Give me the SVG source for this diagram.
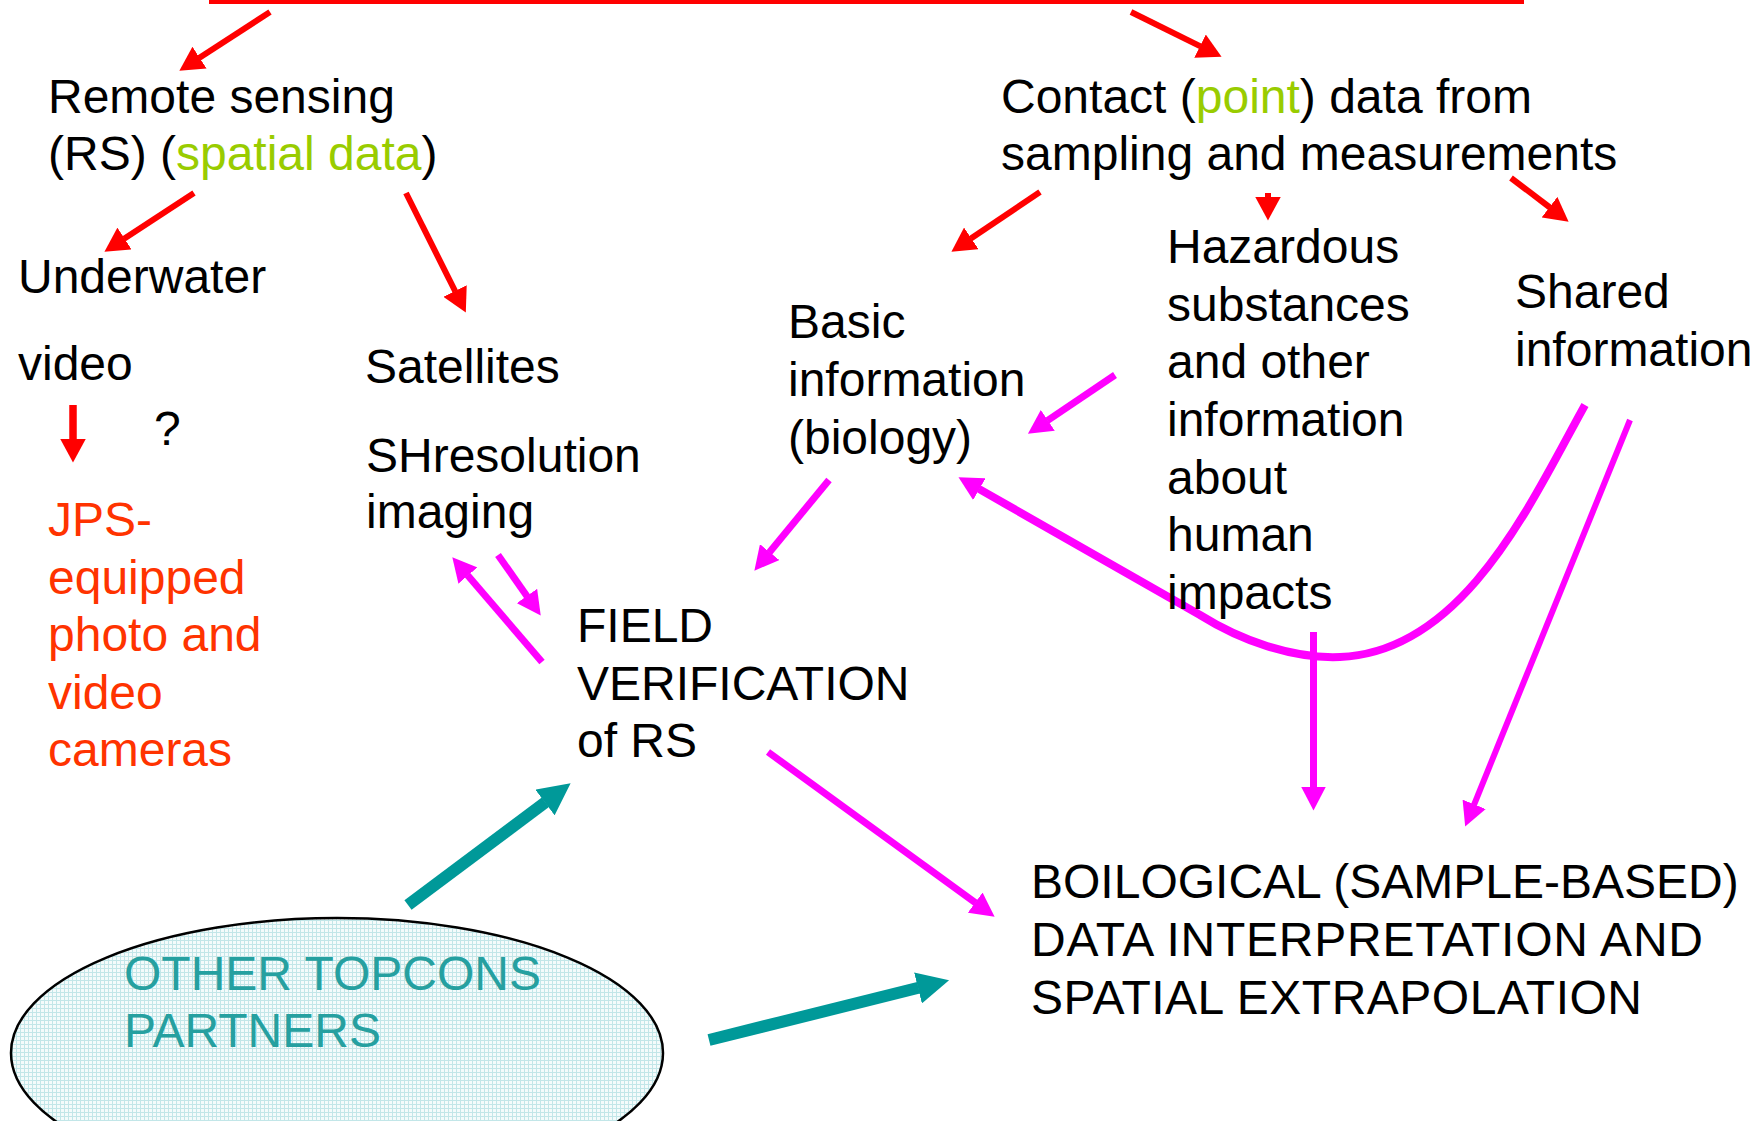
<svg xmlns="http://www.w3.org/2000/svg" width="1763" height="1121" viewBox="0 0 1763 1121">
  <style>
    text { font-family: "Liberation Sans", Arial, sans-serif; font-size: 48px; fill: #000000; }
    .green { fill: #99cc00; }
    .orange { fill: #ff3300; }
    .teal-text { fill: #26a0a0; }
    .red { stroke: #ff0000; stroke-width: 6; fill: none; }
    .mag { stroke: #ff00ff; stroke-width: 7; fill: none; }
    .teal { stroke: #009999; stroke-width: 12; fill: none; }
  </style>
  <defs>
    <marker id="head-red" markerUnits="userSpaceOnUse" viewBox="0 0 24 26" markerWidth="24" markerHeight="26" refX="0.5" refY="13" orient="auto">
      <path d="M0,0 L24,13 L0,26 z" fill="#ff0000"/>
    </marker>
    <marker id="head-mag" markerUnits="userSpaceOnUse" viewBox="0 0 24 25" markerWidth="24" markerHeight="25" refX="0.5" refY="12.5" orient="auto">
      <path d="M0,0 L24,12.5 L0,25 z" fill="#ff00ff"/>
    </marker>
    <marker id="head-teal" markerUnits="userSpaceOnUse" viewBox="0 0 32 32" markerWidth="32" markerHeight="32" refX="0.5" refY="16" orient="auto">
      <path d="M0,0 L32,16 L0,32 z" fill="#009999"/>
    </marker>
    <pattern id="grid" patternUnits="userSpaceOnUse" width="4" height="4">
      <rect width="4" height="4" fill="#f4fbfb"/>
      <path d="M0,0.5 H4 M0.5,0 V4" stroke="#c2e6e8" stroke-width="1"/>
    </pattern>
  </defs>

  <rect width="1763" height="1121" fill="#ffffff"/>

  <!-- connectors -->
  <g id="connectors">
    <rect x="209" y="0" width="1315" height="4" fill="#ff0000"/>
    <line class="red" x1="270" y1="12" x2="199.1" y2="57.9" marker-end="url(#head-red)"/>
    <line class="red" x1="1131" y1="12" x2="1200.5" y2="46.4" marker-end="url(#head-red)"/>
    <line class="red" x1="194" y1="193" x2="124.1" y2="238.8" marker-end="url(#head-red)"/>
    <line class="red" x1="406" y1="193" x2="455.3" y2="291.5" marker-end="url(#head-red)"/>
    <line class="red" x1="73" y1="405" x2="73" y2="439" marker-end="url(#head-red)" style="stroke-width:7.5"/>
    <line class="red" x1="1040" y1="192" x2="970.9" y2="238.6" marker-end="url(#head-red)"/>
    <line class="red" x1="1268" y1="193" x2="1268" y2="197" marker-end="url(#head-red)"/>
    <line class="red" x1="1511" y1="178" x2="1549.9" y2="207.5" marker-end="url(#head-red)"/>

    <line class="mag" x1="542" y1="662" x2="467.6" y2="575.2" marker-end="url(#head-mag)"/>
    <line class="mag" x1="498" y1="555" x2="527.2" y2="596.4" marker-end="url(#head-mag)"/>
    <line class="mag" x1="829" y1="480" x2="769.3" y2="552.5" marker-end="url(#head-mag)"/>
    <line class="mag" x1="1115" y1="375" x2="1047.4" y2="420.6" marker-end="url(#head-mag)"/>
    <path class="mag" style="stroke-width:8" d="M1585,405 C1532,500 1465,652 1340,657 C1292,659 1240,640 1200,615 L978.9,488.9" marker-end="url(#head-mag)"/>
    <line class="mag" x1="1313.5" y1="632" x2="1313.5" y2="787" marker-end="url(#head-mag)"/>
    <line class="mag" style="stroke-width:6" x1="1630" y1="420" x2="1474" y2="804.8" marker-end="url(#head-mag)"/>
    <line class="mag" x1="768" y1="752" x2="975.6" y2="902.9" marker-end="url(#head-mag)"/>

    <line class="teal" x1="408" y1="905" x2="545.4" y2="802.2" marker-end="url(#head-teal)"/>
    <line class="teal" x1="709" y1="1040" x2="918.5" y2="987.8" marker-end="url(#head-teal)"/>
  </g>

  <!-- nodes -->
  <g id="remote-sensing">
    <text x="48" y="113">Remote sensing</text>
    <text x="48" y="170">(RS) (<tspan class="green">spatial data</tspan>)</text>
  </g>
  <g id="contact-data">
    <text x="1001" y="113">Contact (<tspan class="green">point</tspan>) data from</text>
    <text x="1001" y="170">sampling and measurements</text>
  </g>
  <g id="underwater-video">
    <text x="18" y="293">Underwater</text>
    <text x="18" y="380">video</text>
  </g>
  <g id="question">
    <text x="154" y="445">?</text>
  </g>
  <g id="jps-cameras">
    <text class="orange" x="48" y="536">JPS-</text>
    <text class="orange" x="48" y="594">equipped</text>
    <text class="orange" x="48" y="651">photo and</text>
    <text class="orange" x="48" y="709">video</text>
    <text class="orange" x="48" y="766">cameras</text>
  </g>
  <g id="satellites">
    <text x="365" y="383">Satellites</text>
  </g>
  <g id="sh-resolution">
    <text x="366" y="472">SHresolution</text>
    <text x="366" y="528">imaging</text>
  </g>
  <g id="basic-information">
    <text x="788" y="338">Basic</text>
    <text x="788" y="396">information</text>
    <text x="788" y="454">(biology)</text>
  </g>
  <g id="hazardous-substances">
    <text x="1167" y="263">Hazardous</text>
    <text x="1167" y="321">substances</text>
    <text x="1167" y="378">and other</text>
    <text x="1167" y="436">information</text>
    <text x="1167" y="494">about</text>
    <text x="1167" y="551">human</text>
    <text x="1167" y="609">impacts</text>
  </g>
  <g id="shared-information">
    <text x="1515" y="308">Shared</text>
    <text x="1515" y="366">information</text>
  </g>
  <g id="field-verification">
    <text x="577" y="642">FIELD</text>
    <text x="577" y="700">VERIFICATION</text>
    <text x="577" y="757">of RS</text>
  </g>
  <g id="biological-interpretation">
    <text x="1031" y="898">BOILOGICAL (SAMPLE-BASED)</text>
    <text x="1031" y="956" textLength="672" lengthAdjust="spacing">DATA INTERPRETATION AND</text>
    <text x="1031" y="1014" textLength="611" lengthAdjust="spacing">SPATIAL EXTRAPOLATION</text>
  </g>
  <g id="topcons-partners">
    <ellipse cx="337" cy="1053" rx="326" ry="135" fill="url(#grid)" stroke="#000000" stroke-width="2.5"/>
    <text class="teal-text" x="124" y="990">OTHER TOPCONS</text>
    <text class="teal-text" x="124" y="1047">PARTNERS</text>
  </g>
</svg>
